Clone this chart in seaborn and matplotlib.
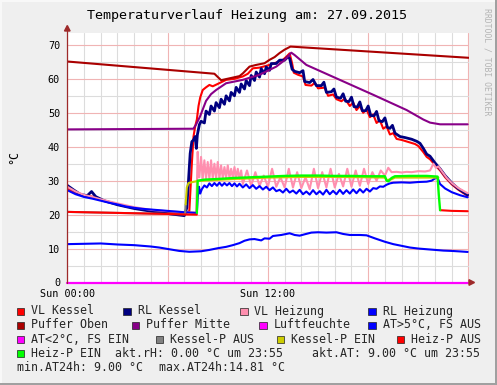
import matplotlib
matplotlib.use("Agg")
import matplotlib.pyplot as plt
import seaborn as sns
from matplotlib.patches import Rectangle, Polygon
from matplotlib.lines import Line2D
from matplotlib.ticker import FixedLocator, FixedFormatter, MultipleLocator

# ---------------- data (hours since Sun 00:00, °C) ----------------
vl_kessel_t = [0, 0.5, 1.0, 1.5, 2.0, 3.0, 4.0, 5.0, 6.0, 7.0, 7.3, 7.45, 7.55, 7.65, 7.75, 7.85, 7.95,
               8.1, 8.3, 8.5, 8.7, 9.0, 9.5, 10.0, 10.5, 10.8, 11.1, 11.5, 12.1, 12.5, 12.9, 13.1, 13.3,
               13.45, 13.55, 13.8, 14.1, 14.25, 14.6, 14.8, 15.0, 15.4, 15.6, 15.9, 16.1, 16.4, 16.6,
               16.9, 17.1, 17.3, 17.5, 17.7, 17.9, 18.1, 18.3, 18.5, 18.7, 18.9, 19.1, 19.3, 19.5, 19.7,
               20.0, 20.4, 20.8, 21.0, 21.3, 21.5, 21.7, 22.0, 22.3, 22.6, 23.0, 23.4, 23.95]
vl_kessel_v = [27.8, 26.5, 25.6, 25.3, 24.4, 23.0, 21.9, 21.2, 20.7, 20.3, 21.0, 35.0, 43.0, 46.0, 48.0, 52.0, 54.5,
               56.7, 57.5, 58.2, 57.8, 58.5, 59.7, 60.0, 60.7, 61.5, 63.1, 63.3, 64.1, 64.8, 65.6, 66.5, 67.5,
               64.5, 61.8, 61.2, 60.7, 58.2, 58.0, 58.8, 57.2, 57.4, 55.0, 55.4, 54.0, 53.4, 54.2,
               52.0, 53.0, 50.8, 52.0, 50.0, 51.0, 48.7, 49.5, 47.0, 47.8, 45.3, 46.0, 43.6, 44.0, 42.3,
               42.0, 41.4, 40.8, 40.2, 38.4, 37.0, 36.3, 34.6, 33.0, 31.0, 28.9, 27.3, 25.5]

rl_kessel_t = [0, 0.4, 0.8, 1.2, 1.45, 1.7, 2.2, 3.0, 4.0, 5.0, 6.0, 7.0, 7.15, 7.25, 7.35, 7.45, 7.55, 7.65,
               7.72, 7.78, 7.9, 8.0, 8.2, 8.3, 8.5, 8.6, 8.8, 8.9, 9.1, 9.2, 9.4, 9.5, 9.7, 9.8, 10.0, 10.1,
               10.3, 10.4, 10.6, 10.7, 10.9, 11.0, 11.2, 11.3, 11.5, 11.6, 11.8, 11.9, 12.1, 12.2, 12.5,
               12.7, 13.0, 13.2, 13.3, 13.45, 13.6, 13.9, 14.1, 14.2, 14.5, 14.7, 14.9, 15.2, 15.35, 15.5,
               15.8, 15.95, 16.1, 16.35, 16.5, 16.65, 16.85, 17.0, 17.15, 17.35, 17.5, 17.65, 17.85, 18.0,
               18.15, 18.35, 18.5, 18.65, 18.85, 19.0, 19.15, 19.3, 19.45, 19.6, 19.75, 19.9, 20.2, 20.6,
               20.9, 21.1, 21.3, 21.5, 21.7, 22.0, 22.3, 22.6, 23.0, 23.4, 23.95]
rl_kessel_v = [28.6, 27.2, 25.9, 25.6, 26.8, 25.3, 24.1, 22.9, 21.8, 21.0, 20.3, 19.7, 22.0, 30.0, 38.0, 41.5, 42.0, 43.0,
               39.5, 43.5, 46.5, 47.5, 47.0, 50.5, 49.5, 52.0, 50.5, 53.0, 51.5, 54.0, 52.5, 55.0, 53.5, 56.0, 55.0, 57.5,
               56.0, 58.5, 57.0, 59.5, 58.0, 61.0, 59.5, 62.0, 60.5, 63.0, 61.5, 63.5, 62.5, 64.5, 64.5,
               65.5, 65.5, 66.5, 66.0, 62.8, 62.2, 61.8, 62.4, 59.2, 58.9, 59.8, 58.0, 58.0, 59.0, 56.0,
               56.2, 57.0, 54.6, 54.3, 55.6, 53.4, 53.3, 54.6, 51.8, 51.7, 53.2, 50.6, 50.6, 52.0,
               49.2, 49.1, 50.4, 47.6, 47.4, 48.5, 45.7, 45.4, 46.3, 44.0, 43.5, 43.0, 42.7, 42.2,
               41.6, 41.0, 39.5, 37.8, 37.2, 35.2, 33.5, 31.5, 29.3, 27.6, 25.8]

vl_heizung_t = [0, 0.5, 1.0, 1.5, 2.0, 3.0, 4.0, 5.0, 6.0, 7.0, 7.7, 7.76, 7.8, 7.86,
                7.9, 8.0, 8.1, 8.2, 8.3, 8.4, 8.5, 8.6, 8.7, 8.8, 8.9, 9.0, 9.1, 9.2, 9.3, 9.4, 9.5, 9.6,
                9.7, 9.8, 9.9, 10.0, 10.1, 10.2, 10.3, 10.4,
                10.5, 10.75, 11.0, 11.25, 11.5, 11.75, 12.0, 12.25, 12.5, 12.75, 13.0, 13.25, 13.5, 13.75,
                14.0, 14.25, 14.5, 14.75, 15.0, 15.25, 15.5, 15.75, 16.0, 16.25, 16.5, 16.75, 17.0, 17.25,
                17.5, 17.75, 18.0, 18.25, 18.5, 18.75, 19.0, 19.2, 19.4, 19.7, 20.0, 20.3, 20.6, 21.0, 21.4,
                21.7, 21.9, 22.05, 22.2, 22.4, 22.7, 23.0, 23.4, 23.95]
vl_heizung_v = [28.2, 26.8, 25.8, 25.2, 24.5, 23.3, 22.2, 21.4, 21.0, 20.7, 20.6, 30.0, 38.5, 31.0,
                31.0, 37.0, 30.5, 36.0, 30.5, 35.5, 30.5, 36.0, 30.6, 35.0, 30.6, 35.5, 30.7, 34.5, 30.7, 34.0, 30.8, 34.5,
                30.8, 33.5, 30.8, 34.0, 30.8, 33.5, 30.5, 33.0,
                29.0, 33.0, 28.5, 32.5, 28.5, 31.5, 28.2, 33.5, 28.2, 31.0, 28.0, 33.5, 28.0, 32.5,
                27.8, 31.0, 27.5, 33.5, 27.8, 32.5, 28.0, 33.5, 28.0, 32.0, 28.3, 33.5, 28.2, 33.0,
                28.5, 33.5, 29.0, 32.5, 30.0, 33.0, 31.5, 33.8, 32.5, 32.6, 32.4, 32.6, 32.5, 32.8, 32.7,
                33.0, 35.0, 33.8, 34.2, 32.8, 30.8, 29.3, 27.8, 26.3]

rl_heizung_t = [0, 0.5, 1.0, 1.5, 2.0, 2.5, 3.0, 3.5, 4.0, 4.5, 5.0, 5.5, 6.0, 6.5, 7.0, 7.75, 7.8, 7.88, 7.95,
                8.05, 8.2, 8.35, 8.5, 8.65, 8.8, 8.95, 9.1, 9.25, 9.4, 9.55, 9.7, 9.85, 10.0, 10.15, 10.3,
                10.5, 10.7, 10.9, 11.1, 11.3, 11.5, 11.7, 11.9, 12.1, 12.3, 12.5, 12.7, 12.9, 13.1, 13.3,
                13.5, 13.7, 13.9, 14.1, 14.3, 14.5, 14.7, 14.9, 15.1, 15.3, 15.5, 15.7, 15.9, 16.1, 16.3,
                16.5, 16.7, 16.9, 17.1, 17.3, 17.5, 17.7, 17.9, 18.1, 18.3, 18.5, 18.7, 18.9, 19.1, 19.3,
                19.5, 20.0, 20.5, 21.0, 21.5, 21.8, 22.0, 22.15, 22.3, 22.6, 23.0, 23.5, 23.95]
rl_heizung_v = [27.2, 26.0, 25.2, 24.7, 24.1, 23.5, 23.0, 22.4, 22.0, 21.7, 21.5, 21.3, 21.1, 20.9, 20.7, 20.5, 25.0, 28.2, 26.2,
                27.5, 28.6, 28.0, 29.2, 28.4, 29.3, 28.5, 29.4, 28.5, 29.3, 28.6, 29.3, 28.4, 29.2, 28.3, 29.1,
                28.0, 28.9, 27.8, 28.7, 27.6, 28.4, 27.4, 28.2, 27.2, 28.0, 26.9, 27.3, 26.5, 27.6, 26.5,
                27.1, 26.2, 27.3, 26.0, 26.8, 25.9, 27.2, 26.0, 26.9, 25.9, 27.3, 26.0, 27.0, 26.0, 27.3,
                26.1, 27.2, 26.2, 27.4, 26.3, 27.5, 26.5, 27.6, 26.8, 27.8, 27.6, 28.3, 28.2, 28.8, 29.2,
                29.4, 29.5, 29.4, 29.6, 29.7, 30.0, 30.7, 30.8, 29.0, 27.7, 26.6, 25.7, 25.1]

puffer_oben_t = [0, 8.8, 9.2, 10.3, 10.5, 10.9, 11.3, 11.8, 12.1, 12.4, 12.7, 13.0, 13.35, 24.0]
puffer_oben_v = [65.1, 61.5, 59.6, 60.8, 61.6, 63.6, 64.1, 64.6, 65.6, 66.4, 67.6, 68.6, 69.5, 66.2]

puffer_mitte_t = [0, 7.54, 7.7, 7.94, 8.3, 8.6, 8.9, 9.5, 10.5, 11.5, 12.5, 13.0, 13.4, 13.6, 14.3,
                  16.3, 18.3, 20.3, 21.3, 21.7, 22.3, 23.95]
puffer_mitte_v = [45.1, 45.3, 46.5, 48.9, 53.5, 55.5, 56.7, 58.7, 59.7, 61.2, 63.6, 65.5, 67.7, 67.0, 64.1,
                  59.7, 55.3, 50.8, 48.0, 47.1, 46.6, 46.6]

luftfeuchte_t = [0, 24.0]
luftfeuchte_v = [0.0, 0.0]

at_t = [0, 1.0, 2.0, 3.0, 4.0, 4.5, 5.0, 5.5, 6.1, 6.7, 7.3, 8.0, 8.5, 9.0, 9.5, 9.9, 10.3, 10.6, 10.9,
        11.2, 11.6, 11.8, 12.1, 12.3, 12.8, 13.3, 13.6, 13.9, 14.2, 14.6, 15.0, 15.5, 16.1, 16.5, 16.9,
        17.5, 17.9, 18.4, 19.0, 19.5, 20.0, 20.5, 21.0, 21.5, 22.0, 22.5, 23.0, 23.5, 23.95]
at_v = [11.3, 11.4, 11.5, 11.2, 11.0, 10.8, 10.6, 10.3, 9.8, 9.3, 9.05, 9.2, 9.6, 10.1, 10.5, 11.0, 11.6, 12.3, 12.7,
        12.8, 12.4, 13.0, 12.9, 13.7, 14.0, 14.5, 14.0, 13.8, 14.2, 14.7, 14.8, 14.7, 14.8, 14.3, 14.0,
        14.0, 13.9, 13.0, 12.0, 11.3, 10.8, 10.3, 10.0, 9.8, 9.6, 9.4, 9.3, 9.15, 9.0]

kessel_p_aus_t = [0, 3.0, 6.0, 7.05, 7.08]
kessel_p_aus_v = [20.8, 20.5, 20.2, 20.1, 23.0]

kessel_p_ein_t = [7.08, 7.15, 7.25, 7.5, 7.8, 8.5, 10.0, 12.0, 14.0, 16.0, 18.0, 19.0, 19.1, 19.4, 19.6, 22.2]
kessel_p_ein_v = [23.0, 28.0, 29.3, 29.6, 29.9, 30.1, 30.5, 30.9, 31.1, 31.1, 31.0, 30.9, 30.2, 30.4, 30.9, 30.9]

heiz_p_aus_t1 = [0, 2.0, 4.0, 6.0, 7.0, 7.75]
heiz_p_aus_v1 = [20.8, 20.6, 20.4, 20.2, 20.05, 20.0]
heiz_p_aus_t2 = [22.3, 23.0, 23.95]
heiz_p_aus_v2 = [21.3, 21.1, 21.0]

heiz_p_ein_t = [7.75, 7.8, 8.2, 9.0, 10.0, 11.0, 12.0, 13.0, 14.0, 15.0, 16.0, 17.0, 18.0, 19.0, 19.1,
                19.2, 19.4, 19.6, 20.5, 21.5, 22.15, 22.22, 22.3]
heiz_p_ein_v = [20.5, 30.0, 30.3, 30.5, 30.8, 31.0, 31.2, 31.4, 31.5, 31.5, 31.4, 31.4, 31.3, 31.3, 30.0,
                29.8, 30.8, 31.3, 31.4, 31.4, 31.2, 26.0, 21.3]

x_tick_pos = [0, 6, 12, 18, 24]
x_tick_labels = ["Sun 00:00", "", "Sun 12:00", "", ""]
y_ticks = [0, 10, 20, 30, 40, 50, 60, 70]

title = "Temperaturverlauf Heizung am: 27.09.2015"
legend_rows = [
    [("VL Kessel", "#FF0000"), ("RL Kessel", "#000080"), ("VL Heizung", "#FF8FAF"), ("RL Heizung", "#0000FF")],
    [("Puffer Oben", "#AA0000"), ("Puffer Mitte", "#880088"), ("Luftfeuchte", "#FF00FF"), ("AT>5°C, FS AUS", "#0000FF")],
    [("AT<2°C, FS EIN", "#FF00FF"), ("Kessel-P AUS", "#808080"), ("Kessel-P EIN", "#CCCC00"), ("Heiz-P AUS", "#FF0000")],
]

# ---------------- figure ----------------
sns.set_theme(style="white")
plt.rcParams["font.family"] = ["DejaVu Sans Mono", "DejaVu Sans"]

W, H = 497, 385
BG = "#EFEFEF"
fig = plt.figure(figsize=(W / 100, H / 100), dpi=100, facecolor=BG)

def fx(x):
    return x / W

def fy(y):
    return 1 - y / H

ax_l, ax_r, ax_t, ax_b = 67.3, 468.5, 33.0, 282.5
ax = fig.add_axes([fx(ax_l), fy(ax_b), (ax_r - ax_l) / W, (ax_b - ax_t) / H])
ax.set_facecolor("white")

lw = 1.5
series = [
    (vl_kessel_t, vl_kessel_v, "#FF0000", lw),
    (rl_kessel_t, rl_kessel_v, "#000080", 2.0),
    (vl_heizung_t, vl_heizung_v, "#FF8FAF", lw),
    (rl_heizung_t, rl_heizung_v, "#0000FF", lw),
    (puffer_oben_t, puffer_oben_v, "#AA0000", lw),
    (puffer_mitte_t, puffer_mitte_v, "#880088", lw),
    (luftfeuchte_t, luftfeuchte_v, "#FF00FF", 1.6),
    (at_t, at_v, "#0000FF", lw),
    (kessel_p_aus_t, kessel_p_aus_v, "#808080", lw),
    (kessel_p_ein_t, kessel_p_ein_v, "#CCCC00", lw),
    (heiz_p_aus_t1, heiz_p_aus_v1, "#FF0000", lw),
    (heiz_p_aus_t2, heiz_p_aus_v2, "#FF0000", lw),
    (heiz_p_ein_t, heiz_p_ein_v, "#00FF00", 1.7),
]
for t, v, c, w in series:
    sns.lineplot(x=t, y=v, ax=ax, color=c, linewidth=w, sort=False, estimator=None, legend=False)
    if v is luftfeuchte_v:
        ax.lines[-1].set_clip_on(False)

ax.set_xlim(0, 24)
ax.set_ylim(0, 73.5)
ax.xaxis.set_major_locator(FixedLocator(x_tick_pos))
ax.xaxis.set_major_formatter(FixedFormatter(x_tick_labels))
ax.xaxis.set_minor_locator(MultipleLocator(1))
ax.set_yticks(y_ticks)
ax.set_yticklabels([str(v) for v in y_ticks])
ax.yaxis.set_minor_locator(MultipleLocator(5))
ax.set_axisbelow(True)
ax.grid(which="minor", color="#DCDCDC", linewidth=0.8)
ax.grid(which="major", color="#F0B4B4", linewidth=0.8)
ax.tick_params(which="both", length=0, labelsize=7.3, colors="#000000")
ax.tick_params(axis="y", pad=5.2)
ax.tick_params(axis="x", pad=5.0)
for s in ax.spines.values():
    s.set_visible(False)
ax.set_xlabel("")
ax.set_ylabel("")

# axis lines and arrows
AXC = "#9E2A2A"
fig.add_artist(Line2D([fx(ax_l), fx(ax_l)], [fy(ax_b), fy(30)], color=AXC, lw=0.9,
                      transform=fig.transFigure))
fig.add_artist(Polygon([(fx(ax_l), fy(25.5)), (fx(ax_l - 2.8), fy(31)), (fx(ax_l + 2.8), fy(31))],
                       closed=True, color=AXC, transform=fig.transFigure))
fig.add_artist(Polygon([(fx(474.5), fy(ax_b)), (fx(469), fy(ax_b - 2.8)), (fx(469), fy(ax_b + 2.8))],
                       closed=True, color=AXC, transform=fig.transFigure))

# title, labels, watermark
fig.text(fx(247.3), fy(16), title, ha="center", va="center", fontsize=9.6, color="#000000")
fig.text(fx(14), fy(157), "°C", ha="center", va="center", rotation=90, fontsize=8.4, color="#000000")
fig.text(fx(487), fy(8), "RRDTOOL / TOBI OETIKER", ha="center", va="top", rotation=270,
         fontsize=5.9, color="#B4B4B4")

# legend
FS = 8.4
box_x = [[16.7, 123.3, 240.0, 368.3], [16.7, 131.7, 259.0, 368.3], [16.7, 155.7, 276.7, 396.7]]
row_y = [311, 325, 339.3, 353.3, 367.3]
for r, row in enumerate(legend_rows):
    for c, (lab, col) in enumerate(row):
        bx = box_x[r][c]
        fig.add_artist(Rectangle((fx(bx), fy(row_y[r] + 4)), 7.5 / W, 7.5 / H, facecolor=col,
                                 edgecolor="#202020", lw=0.5, transform=fig.transFigure))
        fig.text(fx(bx + 14.3), fy(row_y[r]), lab, ha="left", va="center", fontsize=FS)
fig.add_artist(Rectangle((fx(16.7), fy(row_y[3] + 4)), 7.5 / W, 7.5 / H, facecolor="#00FF00",
                         edgecolor="#202020", lw=0.5, transform=fig.transFigure))
fig.text(fx(31), fy(row_y[3]), "Heiz-P EIN", ha="left", va="center", fontsize=FS)
fig.text(fx(115), fy(row_y[3]), "akt.rH: 0.00 °C um 23:55", ha="left", va="center", fontsize=FS)
fig.text(fx(312.3), fy(row_y[3]), "akt.AT: 9.00 °C um 23:55", ha="left", va="center", fontsize=FS)
fig.text(fx(16.7), fy(row_y[4]), "min.AT24h: 9.00 °C", ha="left", va="center", fontsize=FS)
fig.text(fx(159), fy(row_y[4]), "max.AT24h:14.81 °C", ha="left", va="center", fontsize=FS)

# frame
fig.add_artist(Rectangle((0, 0), 1, 2 / H, facecolor="#A0A0A0", edgecolor="none", transform=fig.transFigure))
fig.add_artist(Rectangle((1 - 2 / W, 0), 2 / W, 1, facecolor="#A0A0A0", edgecolor="none", transform=fig.transFigure))
fig.add_artist(Rectangle((0, 1 - 2 / H), 1 - 2 / W, 2 / H, facecolor="#F8F8F8", edgecolor="none", transform=fig.transFigure))
fig.add_artist(Rectangle((0, 2 / H), 2 / W, 1 - 2 / H, facecolor="#F8F8F8", edgecolor="none", transform=fig.transFigure))

fig.savefig("out.png", dpi=100, facecolor=BG)
